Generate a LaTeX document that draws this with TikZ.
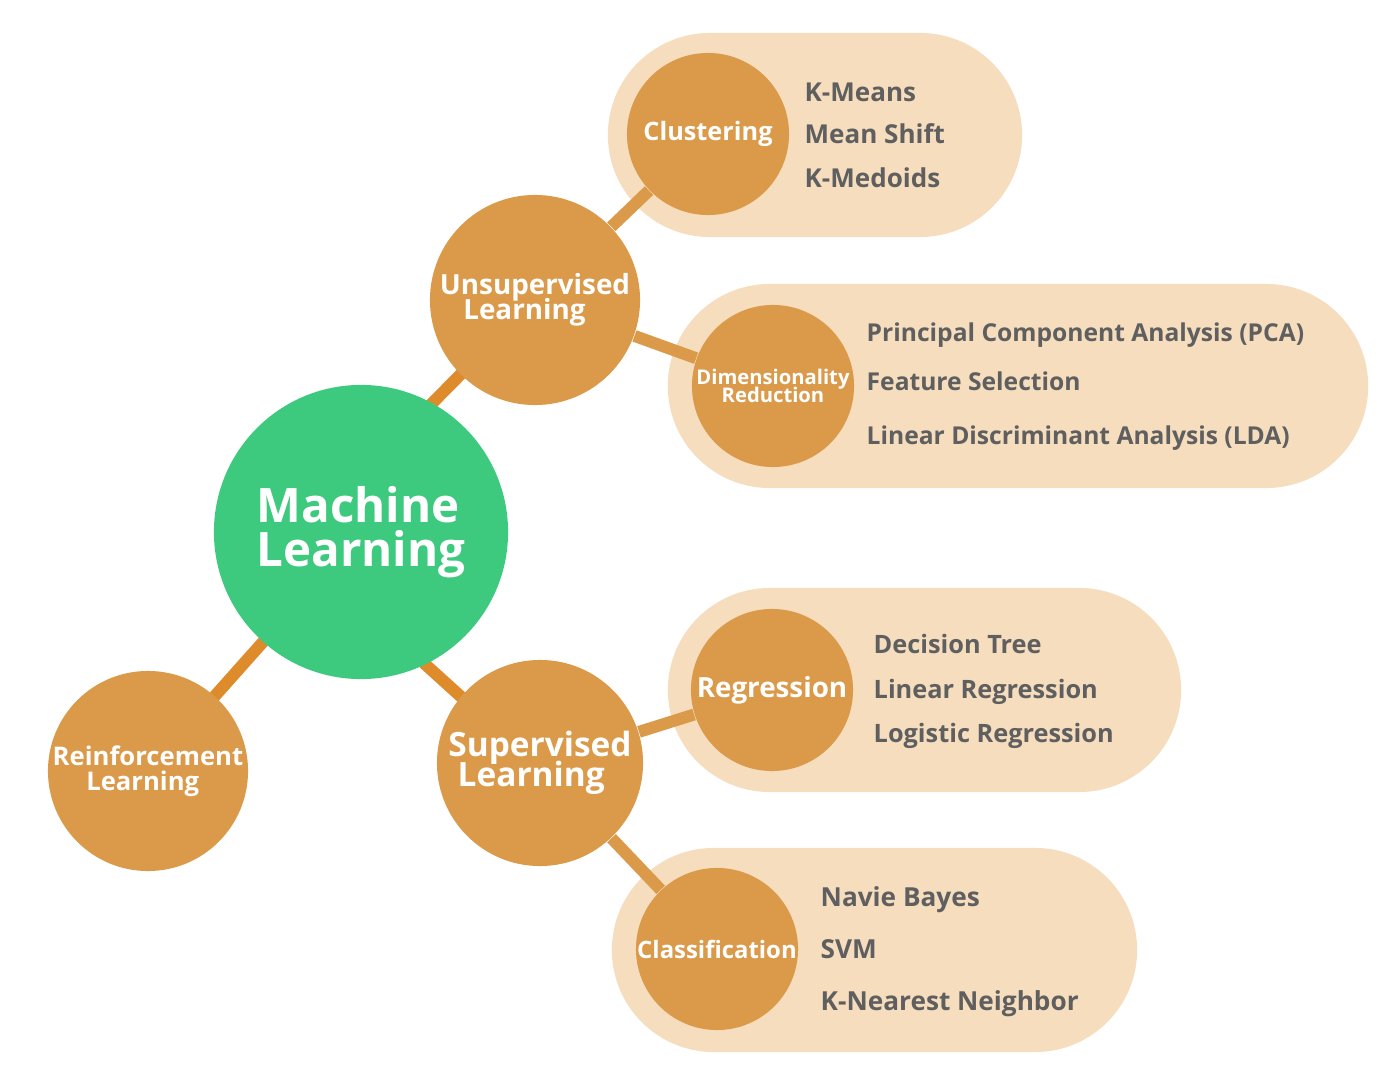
\documentclass[tikz,border=0pt]{standalone}
\usepackage{fontspec}
\setmainfont{Open Sans}
\usetikzlibrary{positioning, backgrounds}

\definecolor{mlgreen}{HTML}{3DCA7F}
\definecolor{branch}{HTML}{DB9A4A}
\definecolor{linkdark}{HTML}{DE8C2B}
\definecolor{pill}{HTML}{F5DDBE}
\definecolor{itemgrey}{HTML}{5F5F5F}

\newcommand{\itemfont}[1]{\bfseries\fontsize{#1}{9}\selectfont}

\begin{document}
\lineskiplimit=-20pt
\begin{tikzpicture}[x=0.01cm, y=-0.01cm,
  hub/.style={circle, fill=branch, text=white, align=center, inner sep=0pt},
  pillbox/.style={rectangle, rounded corners=1.02cm, fill=pill, minimum height=2.04cm, inner sep=0pt},
  item/.style={anchor=base west, text=itemgrey, inner sep=0pt},
  link/.style={line width=3.4pt, draw=branch},
  mainlink/.style={line width=3.4pt, draw=linkdark}]
  \useasboundingbox (0,0) rectangle (1381,1082);

  % background pills
  \begin{scope}[on background layer]
    \node (clustbox) at (815,135) [pillbox, minimum width=4.14cm] {};
    \node (dimbox) at (1018,386) [pillbox, minimum width=7.00cm] {};
    \node (regrbox) at (924.5,690) [pillbox, minimum width=5.13cm] {};
    \node (classbox) at (874.5,950) [pillbox, minimum width=5.25cm] {};
  \end{scope}

  % circles
  \node (ml) at (361,532) [hub, fill=mlgreen, minimum size=2.94cm, align=left,
    font=\bfseries\fontsize{13.5}{12.5}\selectfont] {Machine\\Learning};
  \node (unsup) at (535,300) [hub, minimum size=2.10cm,
    font=\bfseries\fontsize{7.9}{7.2}\selectfont] {Unsupervised\\Learning\hspace*{6pt}};
  \node (sup) at (540,763) [hub, minimum size=2.06cm,
    font=\bfseries\fontsize{9.5}{8.7}\selectfont] {Supervised\\Learning\hspace*{5pt}};
  \node (reinf) at (148,771) [hub, minimum size=2.00cm,
    font=\bfseries\fontsize{7.3}{7}\selectfont] {Reinforcement\\Learning\hspace*{3pt}};
  \node (clust) at (708,134) [hub, minimum size=1.62cm,
    font=\bfseries\fontsize{7.2}{8}\selectfont] {Clustering};
  \node (dimred) at (773,386) [hub, minimum size=1.62cm,
    font=\bfseries\fontsize{5.75}{5.3}\selectfont] {Dimensionality\\Reduction};
  \node (regr) at (772,690) [hub, minimum size=1.62cm,
    font=\bfseries\fontsize{7.9}{8}\selectfont] {Regression};
  \node (classif) at (717,949) [hub, minimum size=1.62cm,
    font=\bfseries\fontsize{6.8}{8}\selectfont] {Classification};

  % connectors
  \begin{scope}[on background layer]
    \draw [mainlink, shorten <=-3pt, shorten >=-3pt] (ml.61) -- (unsup.225);
    \draw [mainlink, shorten <=-3pt, shorten >=-3pt] (ml.-64) -- (sup.140);
    \draw [mainlink, shorten <=-3pt, shorten >=-3pt] (ml) -- (reinf);
    \draw [link] (unsup) -- (clust);
    \draw [link] (unsup) -- (dimred);
    \draw [link] (sup) -- (regr);
    \draw [link] (sup) -- (classif);
  \end{scope}

  % methods
  \node (kmeans) at (804,102) [item, font=\itemfont{7.4}] {K-Means};
  \node (meanshift) at (804,144) [item, font=\itemfont{7.4}] {Mean Shift};
  \node (kmedoids) at (804,188) [item, font=\itemfont{7.4}] {K-Medoids};
  \node (pca) at (866,341) [item, font=\itemfont{7}] {Principal Component Analysis (PCA)};
  \node (featsel) at (866,391) [item, font=\itemfont{7}] {Feature Selection};
  \node (lda) at (866,445) [item, font=\itemfont{7}] {Linear Discriminant Analysis (LDA)};
  \node (dtree) at (873,653) [item, font=\itemfont{7.2}] {Decision Tree};
  \node (linreg) at (873,698) [item, font=\itemfont{7.2}] {Linear Regression};
  \node (logreg) at (873,742) [item, font=\itemfont{7.2}] {Logistic Regression};
  \node (bayes) at (820,906) [item, font=\itemfont{7.45}] {Navie Bayes};
  \node (svm) at (820,958) [item, font=\itemfont{7.45}] {SVM};
  \node (knn) at (820,1010) [item, font=\itemfont{7.45}] {K-Nearest Neighbor};
\end{tikzpicture}
\end{document}
